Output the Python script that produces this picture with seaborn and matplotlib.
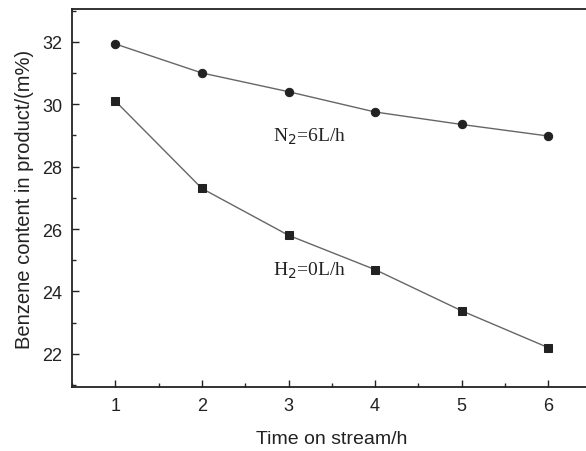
import matplotlib
matplotlib.use("Agg")
import matplotlib.pyplot as plt
from matplotlib.ticker import MultipleLocator
import seaborn as sns
import pandas as pd

time_h = [1, 2, 3, 4, 5, 6]
benzene_n2 = [31.93, 31.0, 30.4, 29.75, 29.35, 28.98]
benzene_h2 = [30.1, 27.3, 25.8, 24.7, 23.38, 22.2]
series_labels = ["N$_2$=6L/h", "H$_2$=0L/h"]
x_ticks = [1, 2, 3, 4, 5, 6]
y_ticks = [22, 24, 26, 28, 30, 32]

sns.set_style("ticks")
plt.rcParams["font.family"] = ["Liberation Sans", "DejaVu Sans"]

df = pd.DataFrame({
    "time": time_h * 2,
    "benzene": benzene_n2 + benzene_h2,
    "series": [series_labels[0]] * len(time_h) + [series_labels[1]] * len(time_h),
})

fig = plt.figure(figsize=(5.86, 4.52), dpi=100)
ax = fig.add_axes([0.1229, 0.1416, 0.8867, 0.8363])

sns.lineplot(data=df, x="time", y="benzene", hue="series", style="series",
             markers={series_labels[0]: "o", series_labels[1]: "s"},
             dashes=False, palette={series_labels[0]: "#666666", series_labels[1]: "#666666"},
             linewidth=1.0, markersize=6, markeredgecolor="#222222",
             legend=False, ax=ax)
for line in ax.lines:
    line.set_markerfacecolor("#222222")

ax.set_xlim(0.5, 6.5)
ax.set_ylim(20.94, 33.05)
ax.set_xticks(x_ticks)
ax.set_yticks(y_ticks)
ax.xaxis.set_minor_locator(MultipleLocator(0.5))
ax.yaxis.set_minor_locator(MultipleLocator(1))
ax.tick_params(which="major", direction="in", length=5, width=1, labelsize=13,
               colors="#222222", pad=7)
ax.tick_params(which="minor", direction="in", length=3, width=1)
for side in ["left", "bottom", "top"]:
    ax.spines[side].set_linewidth(1.3)
    ax.spines[side].set_color("#222222")
ax.spines["right"].set_visible(False)

ax.set_xlabel("Time on stream/h", fontsize=14, color="#222222", labelpad=12)
ax.set_ylabel("Benzene content in product/(m%)", fontsize=14.5, color="#222222", labelpad=6)

ax.text(2.82, 29.0, series_labels[0], fontsize=14, family=["Liberation Serif", "DejaVu Serif"],
        va="center", ha="left", color="#222222")
ax.text(2.82, 24.7, series_labels[1], fontsize=14, family=["Liberation Serif", "DejaVu Serif"],
        va="center", ha="left", color="#222222")

fig.savefig("out.png", dpi=100)
